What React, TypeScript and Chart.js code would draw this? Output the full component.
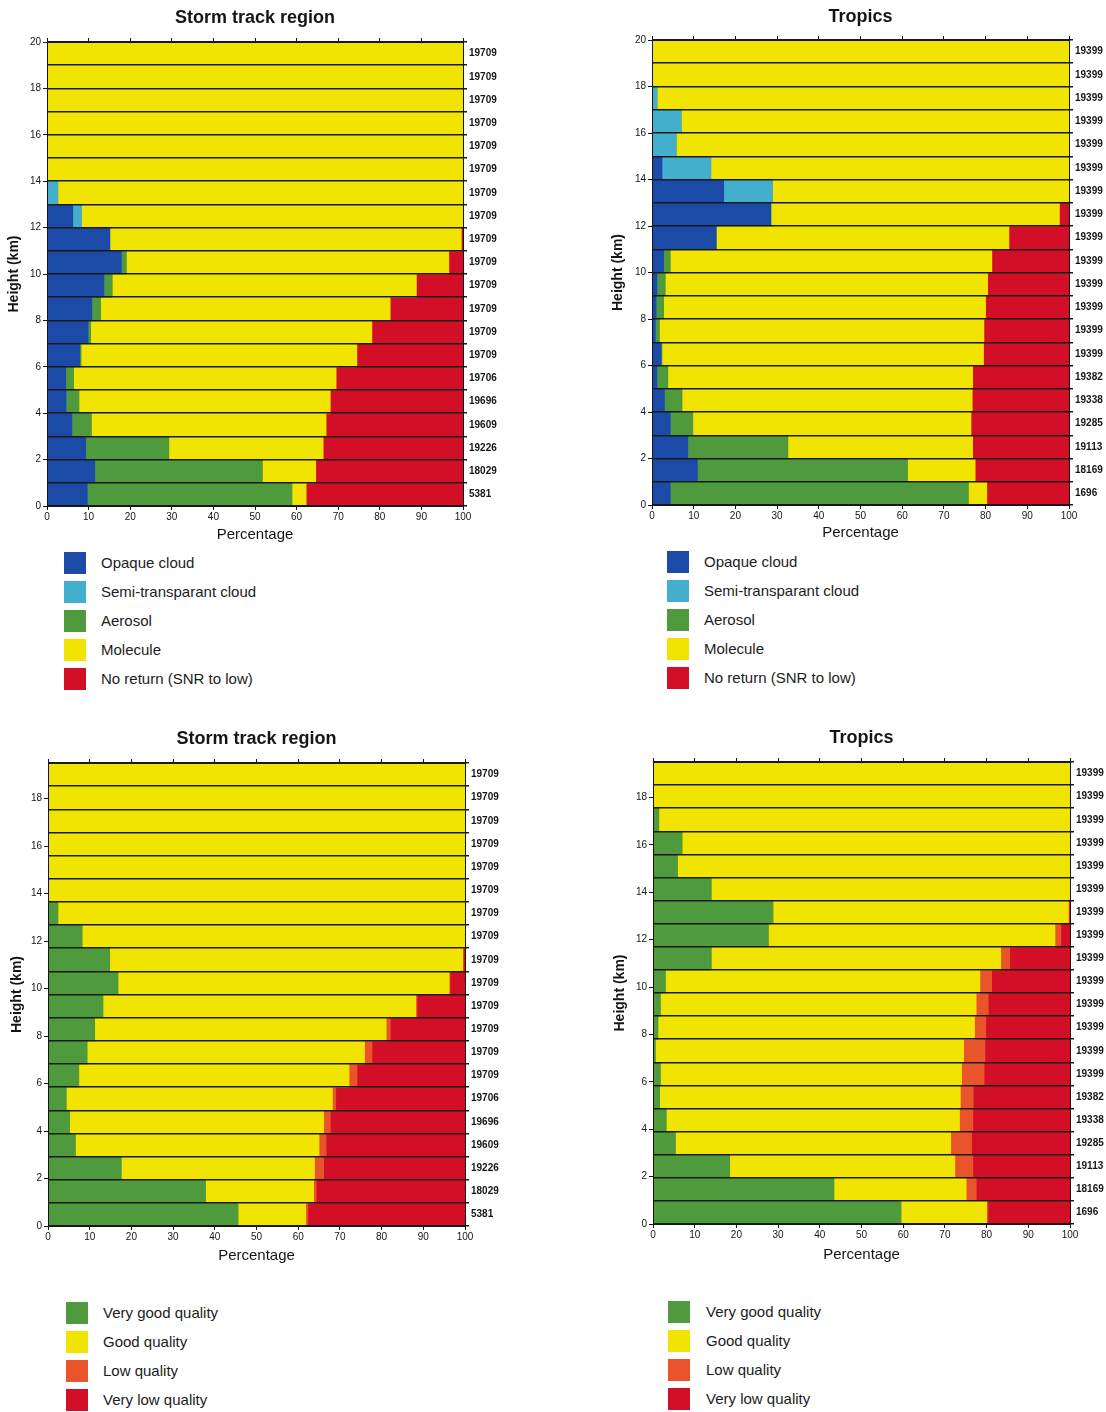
import React, { useEffect, useRef } from 'react';
import { Chart, registerables } from 'chart.js';

Chart.register(...registerables);

const FONT = '"Liberation Sans", Arial, Helvetica, sans-serif';

// ---------- Data (bins from 0-1 km at index 0 up to 19-20 km) ----------
const stormCounts = ['5381', '18029', '19226', '19609', '19696', '19706', '19709', '19709', '19709', '19709', '19709', '19709', '19709', '19709', '19709', '19709', '19709', '19709', '19709', '19709'];
const tropicsCounts = ['1696', '18169', '19113', '19285', '19338', '19382', '19399', '19399', '19399', '19399', '19399', '19399', '19399', '19399', '19399', '19399', '19399', '19399', '19399', '19399'];

// Storm track region – classification
const stOpaque = [9.7, 11.5, 9.3, 6.0, 4.6, 4.5, 7.9, 9.9, 10.8, 13.7, 17.9, 15.1, 6.2, 0, 0, 0, 0, 0, 0, 0];
const stSemi = [0, 0, 0, 0, 0, 0, 0, 0, 0, 0, 0, 0, 2.1, 2.6, 0, 0, 0, 0, 0, 0];
const stAerosol = [49.2, 40.3, 20.0, 4.7, 3.1, 1.9, 0.3, 0.6, 2.1, 2.0, 1.2, 0, 0, 0, 0, 0, 0, 0, 0, 0];
const stMolecule = [3.4, 12.8, 37.1, 56.4, 60.4, 63.1, 66.3, 67.6, 69.6, 73.1, 77.5, 84.5, 91.7, 97.4, 100, 100, 100, 100, 100, 100];
const stNoReturn = [37.7, 35.4, 33.6, 32.9, 31.9, 30.5, 25.5, 21.9, 17.5, 11.2, 3.4, 0.4, 0, 0, 0, 0, 0, 0, 0, 0];

// Tropics – classification
const trOpaque = [4.4, 10.9, 8.6, 4.4, 3.0, 1.2, 2.2, 0.8, 1.0, 1.2, 2.8, 15.4, 28.5, 17.2, 2.4, 0, 0, 0, 0, 0];
const trSemi = [0, 0, 0, 0, 0, 0, 0, 0, 0, 0, 0, 0, 0, 11.7, 11.7, 5.8, 7.0, 1.2, 0, 0];
const trAerosol = [71.5, 50.4, 24.0, 5.4, 4.2, 2.6, 0.2, 1.0, 1.8, 2.0, 1.6, 0, 0, 0, 0, 0, 0, 0, 0, 0];
const trMolecule = [4.4, 16.2, 44.3, 66.7, 69.6, 73.1, 77.1, 77.8, 77.2, 77.3, 77.1, 70.2, 69.2, 71.1, 85.9, 94.2, 93.0, 98.8, 100, 100];
const trNoReturn = [19.7, 22.5, 23.1, 23.5, 23.2, 23.1, 20.5, 20.4, 20.0, 19.5, 18.5, 14.4, 2.3, 0, 0, 0, 0, 0, 0, 0];

// Storm track region – quality
const sqVeryGood = [45.6, 37.8, 17.6, 6.6, 5.2, 4.4, 7.4, 9.4, 11.2, 13.2, 16.8, 14.8, 8.2, 2.4, 0, 0, 0, 0, 0, 0];
const sqGood = [16.2, 25.9, 46.3, 58.4, 60.9, 63.8, 64.8, 66.5, 69.9, 75.0, 79.4, 84.7, 91.8, 97.6, 100, 100, 100, 100, 100, 100];
const sqLow = [0.5, 0.6, 2.2, 1.7, 1.6, 0.8, 1.9, 1.8, 1.0, 0.3, 0.2, 0, 0, 0, 0, 0, 0, 0, 0, 0];
const sqVeryLow = [37.7, 35.7, 33.9, 33.3, 32.3, 31.0, 25.9, 22.3, 17.9, 11.5, 3.6, 0.5, 0, 0, 0, 0, 0, 0, 0, 0];

// Tropics – quality
const tqVeryGood = [59.5, 43.4, 18.4, 5.4, 3.2, 1.6, 1.8, 0.6, 1.2, 1.8, 3.0, 14.0, 27.7, 28.8, 14.0, 5.9, 7.0, 1.4, 0, 0];
const tqGood = [20.5, 31.7, 54.0, 66.0, 70.3, 72.1, 72.2, 73.9, 75.9, 75.7, 75.4, 69.4, 68.7, 70.8, 86.0, 94.1, 93.0, 98.6, 100, 100];
const tqLow = [0.3, 2.4, 4.3, 5.0, 3.2, 3.1, 5.4, 5.1, 2.7, 2.9, 2.8, 2.1, 1.4, 0.2, 0, 0, 0, 0, 0, 0];
const tqVeryLow = [19.7, 22.5, 23.3, 23.6, 23.3, 23.2, 20.6, 20.4, 20.2, 19.6, 18.8, 14.5, 2.2, 0.2, 0, 0, 0, 0, 0, 0];

const classLabels = ['Opaque cloud', 'Semi-transparant cloud', 'Aerosol', 'Molecule', 'No return (SNR to low)'];
const qualityLabels = ['Very good quality', 'Good quality', 'Low quality', 'Very low quality'];

const BLUE = '#1b4ba6';
const CYAN = '#44aecf';
const GREEN = '#4f9a3d';
const YELLOW = '#f1e400';
const RED = '#d20f27';
const ORANGE = '#e9542a';

type Series = { label: string; color: string; data: number[] };
type Box = { x: number; y: number; w: number; h: number };
type Area = { l: number; t: number; r: number; b: number };

type PanelProps = {
  title: string;
  counts: string[];
  series: Series[];
  yMax: number;
  box: Box;
  area: Area;
  titleY: number;
  yTitleX: number;
  xTitleY: number;
  legendX: number;
  legendY: number;
  legendTextX: number;
};

function Panel(p: PanelProps) {
  const ref = useRef<HTMLCanvasElement | null>(null);

  useEffect(() => {
    if (!ref.current) return;
    const { box, area } = p;
    const leftW = area.l - box.x;
    const rightW = box.x + box.w - area.r;
    const bottomH = box.y + box.h - area.b;
    const titleCenter = p.titleY - box.y;
    const tPadTop = titleCenter - 10.8;
    const tPadBottom = 4;
    const topH = area.t - box.y - (tPadTop + 21.6 + tPadBottom);
    const xTitlePadBottom = box.y + box.h - p.xTitleY - 9;
    const yTitlePadTop = p.yTitleX - box.x - 8.4;
    const ink = '#151515';

    const chart = new Chart(ref.current, {
      type: 'bar',
      data: {
        labels: p.counts,
        datasets: p.series.map((s) => ({
          label: s.label,
          data: s.data,
          backgroundColor: s.color,
          borderWidth: 0,
          barPercentage: 1,
          categoryPercentage: 1,
          xAxisID: 'x',
          yAxisID: 'y',
        })),
      },
      options: {
        indexAxis: 'y',
        responsive: false,
        animation: false,
        events: [],
        layout: { padding: 0 },
        plugins: {
          legend: { display: false },
          tooltip: { enabled: false },
          title: {
            display: true,
            text: p.title,
            color: ink,
            fullSize: false,
            font: { family: FONT, size: 18, weight: 'bold', lineHeight: 1.2 },
            padding: { top: tPadTop, bottom: tPadBottom },
          },
        },
        scales: {
          x: {
            type: 'linear',
            position: 'bottom',
            stacked: true,
            min: 0,
            max: 100,
            offset: false,
            ticks: { stepSize: 10, color: ink, font: { family: FONT, size: 10 }, padding: 1, maxRotation: 0 },
            grid: { offset: false, drawOnChartArea: false, drawTicks: true, tickLength: 4, color: ink, z: 1 },
            border: { display: true, color: ink, width: 1, z: 2 },
            title: {
              display: true,
              text: 'Percentage',
              color: ink,
              font: { family: FONT, size: 15, lineHeight: 1.2 },
              padding: { top: 0, bottom: xTitlePadBottom },
            },
            afterFit: (s: any) => { s.height = bottomH; },
          },
          x2: {
            type: 'linear',
            position: 'top',
            min: 0,
            max: 100,
            offset: false,
            ticks: { display: false, stepSize: 10 },
            grid: { offset: false, drawOnChartArea: false, drawTicks: true, tickLength: 4, color: ink, z: 1 },
            border: { display: true, color: ink, width: 1, z: 2 },
            afterFit: (s: any) => { s.height = topH; },
          },
          y: {
            type: 'category',
            position: 'right',
            stacked: true,
            reverse: true,
            offset: true,
            ticks: { autoSkip: false, color: ink, font: { family: FONT, size: 10, weight: 'bold' }, padding: 2 },
            grid: { offset: true, drawOnChartArea: true, drawTicks: true, tickLength: 4, color: '#1a1a1a', lineWidth: 1.5, z: 1 },
            border: { display: true, color: ink, width: 1, z: 2 },
            afterFit: (s: any) => { s.width = rightW; },
          },
          yl: {
            type: 'linear',
            position: 'left',
            min: 0,
            max: p.yMax,
            offset: false,
            ticks: { stepSize: 2, includeBounds: false, color: ink, font: { family: FONT, size: 10 }, padding: 2 },
            grid: { offset: false, drawOnChartArea: false, drawTicks: true, tickLength: 4, color: ink, z: 1 },
            border: { display: true, color: ink, width: 1, z: 2 },
            title: {
              display: true,
              text: 'Height (km)',
              color: ink,
              font: { family: FONT, size: 14, weight: 'bold', lineHeight: 1.2 },
              padding: { top: yTitlePadTop, bottom: 0 },
            },
            afterFit: (s: any) => { s.width = leftW; },
          },
        },
      } as any,
    });
    return () => chart.destroy();
  }, []);

  return (
    <>
      <canvas
        ref={ref}
        width={p.box.w}
        height={p.box.h}
        style={{ position: 'absolute', left: p.box.x, top: p.box.y, width: p.box.w, height: p.box.h }}
      />
      {p.series.map((s, i) => (
        <React.Fragment key={s.label}>
          <div
            style={{
              position: 'absolute',
              left: p.legendX,
              top: p.legendY + i * 29 - 11,
              width: 22,
              height: 22,
              background: s.color,
            }}
          />
          <div
            style={{
              position: 'absolute',
              left: p.legendTextX,
              top: p.legendY + i * 29 - 10,
              height: 20,
              lineHeight: '20px',
              fontSize: 15,
              color: '#1c1c1c',
              whiteSpace: 'nowrap',
            }}
          >
            {s.label}
          </div>
        </React.Fragment>
      ))}
    </>
  );
}

export default function App() {
  const stormClass: Series[] = [
    { label: classLabels[0], color: BLUE, data: stOpaque },
    { label: classLabels[1], color: CYAN, data: stSemi },
    { label: classLabels[2], color: GREEN, data: stAerosol },
    { label: classLabels[3], color: YELLOW, data: stMolecule },
    { label: classLabels[4], color: RED, data: stNoReturn },
  ];
  const tropicsClass: Series[] = [
    { label: classLabels[0], color: BLUE, data: trOpaque },
    { label: classLabels[1], color: CYAN, data: trSemi },
    { label: classLabels[2], color: GREEN, data: trAerosol },
    { label: classLabels[3], color: YELLOW, data: trMolecule },
    { label: classLabels[4], color: RED, data: trNoReturn },
  ];
  const stormQuality: Series[] = [
    { label: qualityLabels[0], color: GREEN, data: sqVeryGood },
    { label: qualityLabels[1], color: YELLOW, data: sqGood },
    { label: qualityLabels[2], color: ORANGE, data: sqLow },
    { label: qualityLabels[3], color: RED, data: sqVeryLow },
  ];
  const tropicsQuality: Series[] = [
    { label: qualityLabels[0], color: GREEN, data: tqVeryGood },
    { label: qualityLabels[1], color: YELLOW, data: tqGood },
    { label: qualityLabels[2], color: ORANGE, data: tqLow },
    { label: qualityLabels[3], color: RED, data: tqVeryLow },
  ];

  return (
    <div
      style={{
        position: 'absolute',
        left: 0,
        top: 0,
        width: 1106,
        height: 1412,
        background: '#ffffff',
        fontFamily: FONT,
        overflow: 'hidden',
      }}
    >
      <Panel
        title="Storm track region"
        counts={stormCounts}
        series={stormClass}
        yMax={20}
        box={{ x: 0, y: 0, w: 553, h: 550 }}
        area={{ l: 47, t: 42, r: 463, b: 506 }}
        titleY={18}
        yTitleX={14}
        xTitleY={535}
        legendX={64}
        legendY={563}
        legendTextX={101}
      />
      <Panel
        title="Tropics"
        counts={tropicsCounts}
        series={tropicsClass}
        yMax={20}
        box={{ x: 553, y: 0, w: 553, h: 550 }}
        area={{ l: 652, t: 40, r: 1069, b: 505 }}
        titleY={17}
        yTitleX={618}
        xTitleY={533}
        legendX={667}
        legendY={562}
        legendTextX={704}
      />
      <Panel
        title="Storm track region"
        counts={stormCounts}
        series={stormQuality}
        yMax={19.5}
        box={{ x: 0, y: 710, w: 553, h: 560 }}
        area={{ l: 48, t: 763, r: 465, b: 1226 }}
        titleY={739}
        yTitleX={17}
        xTitleY={1256}
        legendX={66}
        legendY={1313}
        legendTextX={103}
      />
      <Panel
        title="Tropics"
        counts={tropicsCounts}
        series={tropicsQuality}
        yMax={19.5}
        box={{ x: 553, y: 710, w: 553, h: 560 }}
        area={{ l: 653, t: 762, r: 1070, b: 1224 }}
        titleY={738}
        yTitleX={620}
        xTitleY={1255}
        legendX={668}
        legendY={1312}
        legendTextX={706}
      />
    </div>
  );
}
